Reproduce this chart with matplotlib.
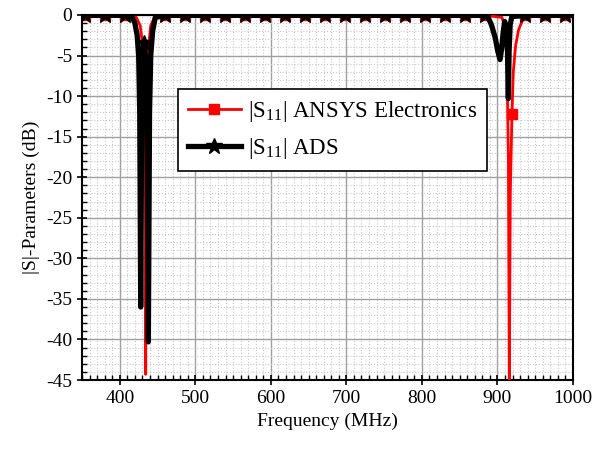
import matplotlib
matplotlib.use('Agg')
import matplotlib.pyplot as plt
import numpy as np
from matplotlib.ticker import MultipleLocator

plt.rcParams['font.family'] = ['Liberation Serif', 'DejaVu Serif']
plt.rcParams['mathtext.fontset'] = 'custom'
plt.rcParams['mathtext.rm'] = 'Liberation Serif'
plt.rcParams['mathtext.it'] = 'Liberation Serif:italic'
plt.rcParams['axes.unicode_minus'] = False

# regular sample points along the flat part (where the markers sit)
flat_f = [350, 354, 380, 407, 460, 486, 513, 539, 566, 592, 619, 645, 672, 698,
          725, 751, 778, 804, 831, 857, 884, 937, 963, 990, 1000]
flat_db = -0.05

# ANSYS Electronics |S11|
red_f = [422, 427, 430, 432, 433.3, 434.3, 435.3, 436.6, 438.5, 441, 446,
         906, 910, 912.5, 914.5, 915.7, 917, 919.2, 921, 924, 928, 934]
red_db = [-0.3, -1.3, -3.5, -9, -22, -44.3, -22, -9, -3.5, -1.3, -0.3,
          -0.3, -1.5, -5, -18, -46, -22, -12.2, -7, -3.8, -1.8, -0.5]
red_mark_f = [919.2]

# ADS |S11|
blk_f = [416, 420, 423, 425, 426.4, 427.7, 429, 430.6, 432.3, 434, 435.8, 437.8, 439.4,
         441, 443.5, 447,
         887, 892, 897, 900.5, 903.4, 905.5, 907.5, 909.5, 911.5, 913.3, 914.4, 915.4, 916.8, 919]
blk_db = [-0.2, -1.0, -2.5, -5, -12, -36, -12, -5, -3.5, -5, -12, -40.3, -12,
          -5, -2, -0.3,
          -0.2, -1.2, -2.8, -4.5, -5.5, -4.2, -2.2, -0.8, -1.5, -4.5, -10.3, -4.5, -1.2, -0.2]
blk_mark_f = [432.3, 910]


def build(f_dip, db_dip, extra_marks):
    f = np.array(list(flat_f) + list(f_dip), dtype=float)
    y = np.array([flat_db] * len(flat_f) + list(db_dip), dtype=float)
    order = np.argsort(f)
    f, y = f[order], y[order]
    marks = [i for i, v in enumerate(f) if (v in flat_f and v not in (350, 1000)) or v in extra_marks]
    return f, y, marks


fig = plt.figure(figsize=(5.96, 4.58), dpi=100)
ax = fig.add_axes([0.1376, 0.1703, 0.8238, 0.797])

rf, ry, rm = build(red_f, red_db, red_mark_f)
bf, by, bm = build(blk_f, blk_db, blk_mark_f)

ax.plot(rf, ry, color='red', lw=2, marker='s', ms=7, markevery=rm,
        label=r'$|\mathrm{S}_{11}|$ ANSYS Electronics', zorder=3)
ax.plot(bf, by, color='black', lw=3.8, marker='*', ms=12, markevery=bm,
        label=r'$|\mathrm{S}_{11}|$ ADS', zorder=4)

ax.set_xlim(350, 1000)
ax.set_ylim(-45, 0)
ax.xaxis.set_major_locator(MultipleLocator(100))
ax.xaxis.set_minor_locator(MultipleLocator(10))
ax.yaxis.set_major_locator(MultipleLocator(5))
ax.yaxis.set_minor_locator(MultipleLocator(1))
ax.grid(which='major', color='#a0a0a0', lw=1)
ax.grid(which='minor', color='#c8c8c8', lw=0.8, ls=':')
ax.set_axisbelow(True)
ax.tick_params(which='major', direction='inout', length=7, width=1.2, labelsize=14)
ax.tick_params(which='minor', direction='in', length=3.5, width=1)
for s in ax.spines.values():
    s.set_linewidth(1.5)

ax.set_xlabel('Frequency (MHz)', fontsize=14)
ax.set_ylabel('|S|-Parameters (dB)', fontsize=14)

leg = ax.legend(loc='upper left', bbox_to_anchor=(0.195, 0.797), fontsize=16.5,
                fancybox=False, framealpha=1, edgecolor='black',
                handlelength=2.3, handletextpad=0.3, borderpad=0.45,
                labelspacing=0.5, borderaxespad=0)
leg.get_frame().set_linewidth(1.2)

fig.savefig('out.png', dpi=100)
